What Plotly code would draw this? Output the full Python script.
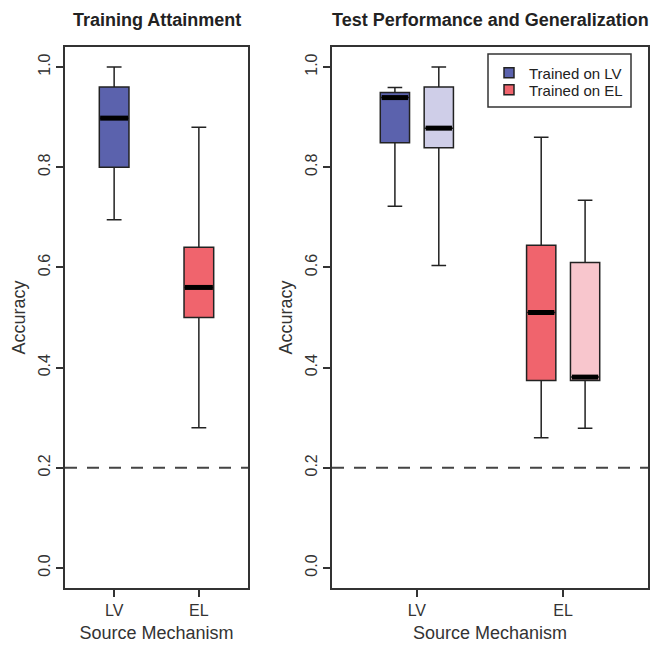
import plotly.graph_objects as go

# ---- data ----
categories = ["LV", "EL"]

# Training attainment (left panel)
train_q1 = [0.80, 0.50]
train_med = [0.898, 0.56]
train_q3 = [0.96, 0.64]
train_lo = [0.695, 0.28]
train_hi = [1.00, 0.88]

# Test performance (right panel): trained on LV / trained on EL, for each source
test_lv_q1 = [0.849, 0.374]
test_lv_med = [0.939, 0.51]
test_lv_q3 = [0.949, 0.644]
test_lv_lo = [0.722, 0.26]
test_lv_hi = [0.959, 0.86]

test_el_q1 = [0.839, 0.374]
test_el_med = [0.878, 0.381]
test_el_q3 = [0.96, 0.61]
test_el_lo = [0.604, 0.279]
test_el_hi = [1.00, 0.734]

chance_level = 0.2
legend_names = ["Trained on LV", "Trained on EL"]

# ---- styles ----
FONT = "Liberation Sans, Arial, Helvetica, sans-serif"
DARK = "#222222"
FRAME = "#333333"
col_dark = ["#5b62ad", "#f0646d"]   # LV, EL (dark)
col_light = ["#cfcee8", "#f8c6cd"]  # lighter (generalization)

fig = go.Figure()

pos = [1, 2]


def add_boxes(xs, q1, med, q3, lo, hi, colors, width, xa, ya):
    for i in range(len(xs)):
        fig.add_trace(go.Box(
            x=[xs[i]], q1=[q1[i]], median=[med[i]], q3=[q3[i]],
            lowerfence=[lo[i]], upperfence=[hi[i]],
            width=width, whiskerwidth=0.5,
            fillcolor=colors[i], line=dict(color=DARK, width=1.5),
            boxpoints=False, showlegend=False, hoverinfo="skip",
            xaxis=xa, yaxis=ya,
        ))
        # thick median line
        fig.add_trace(go.Scatter(
            x=[xs[i] - width / 2 + 0.01, xs[i] + width / 2 - 0.01],
            y=[med[i], med[i]], mode="lines",
            line=dict(color="black", width=5),
            showlegend=False, hoverinfo="skip", xaxis=xa, yaxis=ya,
        ))


# left panel
add_boxes(pos, train_q1, train_med, train_q3, train_lo, train_hi,
          col_dark, 0.35, "x", "y")

# right panel
off = 0.15
add_boxes([p - off for p in pos], test_lv_q1, test_lv_med, test_lv_q3,
          test_lv_lo, test_lv_hi, [col_dark[0], col_dark[1]], 0.2, "x2", "y2")
add_boxes([p + off for p in pos], test_el_q1, test_el_med, test_el_q3,
          test_el_lo, test_el_hi, [col_light[0], col_light[1]], 0.2, "x2", "y2")

# legend entries (one legend per entry for tight R-like spacing)
for k, (name, c) in enumerate(zip(legend_names, col_dark)):
    fig.add_trace(go.Scatter(
        x=[None], y=[None], mode="markers", name=name,
        marker=dict(symbol="square", size=10, color=c,
                    line=dict(color=DARK, width=1.5)),
        xaxis="x2", yaxis="y2",
        legend="legend" if k == 0 else "legend2",
    ))

# chance lines
for xr, yr in [("x", "y"), ("x2", "y2")]:
    fig.add_shape(type="line", xref=f"{xr} domain", yref=yr,
                  x0=0, x1=1, y0=chance_level, y1=chance_level,
                  line=dict(color="#444444", width=2, dash="12px,10px"))

# legend frame
fig.add_shape(type="rect", xref="paper", yref="paper",
              x0=488 / 650, x1=631 / 650, y0=1 - 107 / 648, y1=1 - 54 / 648,
              line=dict(color=FRAME, width=1.5), fillcolor="white", layer="below")

ydom = [1 - 588 / 648, 1 - 47 / 648]
xdom1 = [65 / 650, 248 / 650]
xdom2 = [332 / 650, 648 / 650]

tickfont = dict(family=FONT, size=16, color="#333333")
titlefont = dict(family=FONT, size=18, color="#333333")

xcommon = dict(range=[0.42, 2.58], tickvals=pos, ticktext=categories,
               ticks="outside", ticklen=7, tickwidth=1.5, tickcolor=FRAME,
               showline=True, linecolor=FRAME, linewidth=1.5, mirror=True,
               showgrid=False, zeroline=False, tickfont=tickfont,
               title=dict(text="Source Mechanism", font=titlefont, standoff=8),
               fixedrange=True)
ycommon = dict(range=[-0.04, 1.04], tickvals=[0, 0.2, 0.4, 0.6, 0.8, 1.0],
               ticktext=["0.0", "0.2", "0.4", "0.6", "0.8", "1.0"],
               tickangle=-90,
               ticks="outside", ticklen=7, tickwidth=1.5, tickcolor=FRAME,
               showline=True, linecolor=FRAME, linewidth=1.5, mirror=True,
               showgrid=False, zeroline=False, tickfont=tickfont,
               title=dict(text="Accuracy", font=titlefont, standoff=6),
               fixedrange=True)

legend_common = dict(xanchor="left", yanchor="middle",
                     bgcolor="rgba(0,0,0,0)", borderwidth=0,
                     font=dict(family=FONT, size=15, color="#222222"),
                     itemwidth=30)

fig.update_layout(
    width=650, height=648,
    margin=dict(l=0, r=0, t=0, b=0),
    paper_bgcolor="white", plot_bgcolor="white",
    font=dict(family=FONT, color="#333333"),
    xaxis=dict(domain=xdom1, anchor="y", **xcommon),
    yaxis=dict(domain=ydom, anchor="x", **ycommon),
    xaxis2=dict(domain=xdom2, anchor="y2", **xcommon),
    yaxis2=dict(domain=ydom, anchor="x2", **ycommon),
    showlegend=True,
    legend=dict(x=489 / 650, y=1 - 73 / 648, **legend_common),
    legend2=dict(x=489 / 650, y=1 - 90 / 648, **legend_common),
    boxmode="overlay",
    annotations=[
        dict(text="<b>Training Attainment</b>", xref="paper", yref="paper",
             x=(xdom1[0] + xdom1[1]) / 2, y=1 - 20 / 648, xanchor="center",
             yanchor="middle", showarrow=False,
             font=dict(family=FONT, size=18, color="#222222")),
        dict(text="<b>Test Performance and Generalization</b>", xref="paper",
             yref="paper", x=(xdom2[0] + xdom2[1]) / 2, y=1 - 20 / 648,
             xanchor="center", yanchor="middle", showarrow=False,
             font=dict(family=FONT, size=18, color="#222222")),
    ],
)

fig.write_html(
    "out.html",
    config={"responsive": False, "displayModeBar": False},
    post_script="document.body.style.margin='0';document.body.style.overflow='hidden';",
)
